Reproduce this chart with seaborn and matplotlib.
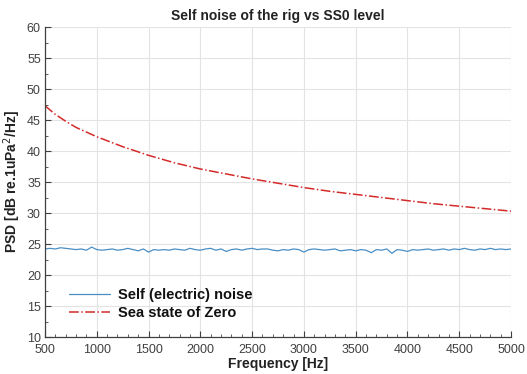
import numpy as np
import pandas as pd
import matplotlib
matplotlib.use("Agg")
import matplotlib.pyplot as plt
from matplotlib.ticker import MultipleLocator
import seaborn as sns

# Self (electric) noise, 50 Hz steps from 500 to 5000 Hz
self_freq = list(range(500, 5001, 50))
self_psd = [24.2, 24.3, 24.2, 24.4, 24.3, 24.2, 24.1, 24.2, 24.0, 24.5,
            24.1, 24.0, 24.1, 24.2, 24.0, 24.1, 24.3, 24.1, 23.9, 24.2,
            23.7, 24.1, 24.0, 24.1, 24.0, 24.2, 24.1, 24.0, 24.3, 24.1,
            24.0, 24.2, 24.3, 24.0, 24.2, 23.8, 24.1, 24.2, 24.0, 24.2,
            24.3, 24.1, 24.2, 24.2, 24.0, 23.9, 24.1, 24.0, 24.2, 24.1,
            23.7, 24.1, 24.2, 24.1, 24.0, 24.1, 24.2, 23.9, 24.0, 24.1,
            23.9, 24.1, 24.0, 23.6, 24.1, 24.0, 24.2, 23.5, 24.1, 24.0,
            23.8, 24.1, 24.0, 24.1, 24.2, 24.0, 24.1, 24.2, 24.0, 24.2,
            24.1, 24.3, 24.1, 24.0, 24.2, 24.1, 24.3, 24.1, 24.2, 24.1,
            24.2]

# Sea state zero
ss0_freq = [500, 600, 700, 800, 1000, 1250, 1500, 1750, 2000, 2250, 2500,
            2750, 3000, 3250, 3500, 3750, 4000, 4250, 4500, 4750, 5000]
ss0_psd = [47.3, 45.9, 44.8, 43.8, 42.3, 40.7, 39.3, 38.1, 37.1, 36.3, 35.5,
           34.8, 34.1, 33.5, 33.0, 32.5, 32.0, 31.5, 31.1, 30.7, 30.3]

x_ticks = [500, 1000, 1500, 2000, 2500, 3000, 3500, 4000, 4500, 5000]
y_ticks = [10, 15, 20, 25, 30, 35, 40, 45, 50, 55, 60]

sns.set_theme(style="white")
plt.rcParams['font.family'] = ['Liberation Sans', 'DejaVu Sans']

fig = plt.figure(figsize=(5.27, 3.74), dpi=100)
ax = fig.add_axes([0.0854, 0.0989, 0.8843, 0.8289])

df_self = pd.DataFrame({"f": self_freq, "psd": self_psd})
df_ss0 = pd.DataFrame({"f": ss0_freq, "psd": ss0_psd})

sns.lineplot(data=df_self, x="f", y="psd", ax=ax, color="#4a8fc4", lw=0.9,
             label="Self (electric) noise")
sns.lineplot(data=df_ss0, x="f", y="psd", ax=ax, color="#d42a2a", lw=1.1,
             linestyle="-.", label="Sea state of Zero")

ax.set_xlim(500, 5000)
ax.set_ylim(10, 60)
ax.set_xticks(x_ticks)
ax.set_yticks(y_ticks)
ax.xaxis.set_minor_locator(MultipleLocator(100))
ax.yaxis.set_minor_locator(MultipleLocator(2.5))
ax.grid(True, which="major", color="#e3e3e3", lw=0.8)
ax.set_axisbelow(True)

for s in ["top", "right"]:
    ax.spines[s].set_visible(False)
for s in ["left", "bottom"]:
    ax.spines[s].set_color("#404040")
    ax.spines[s].set_linewidth(0.9)

ax.tick_params(which="major", direction="in", length=4, width=0.8,
               colors="#404040", labelsize=9, labelcolor="#404040",
               left=True, bottom=True)
ax.tick_params(axis="x", which="major", pad=5)
ax.tick_params(axis="y", which="major", pad=3)
ax.tick_params(which="minor", direction="in", length=2, width=0.6,
               colors="#404040", left=True, bottom=True)

ax.set_title("Self noise of the rig vs SS0 level", fontsize=10,
             fontweight="bold", color="#222222", pad=5)
ax.set_xlabel("Frequency [Hz]", fontsize=10, fontweight="bold",
              color="#222222", labelpad=1)
ax.set_ylabel("PSD [dB re.1uPa$^2$/Hz]", fontsize=10, fontweight="bold",
              color="#222222", labelpad=3)

leg = ax.legend(loc="lower left", frameon=False, fontsize=10.5,
                bbox_to_anchor=(0.04, 0.035), handlelength=2.8,
                handletextpad=0.5, labelspacing=0.3, borderaxespad=0)
for t in leg.get_texts():
    t.set_fontweight("bold")
    t.set_color("#111111")

fig.savefig("out.png", dpi=100)
